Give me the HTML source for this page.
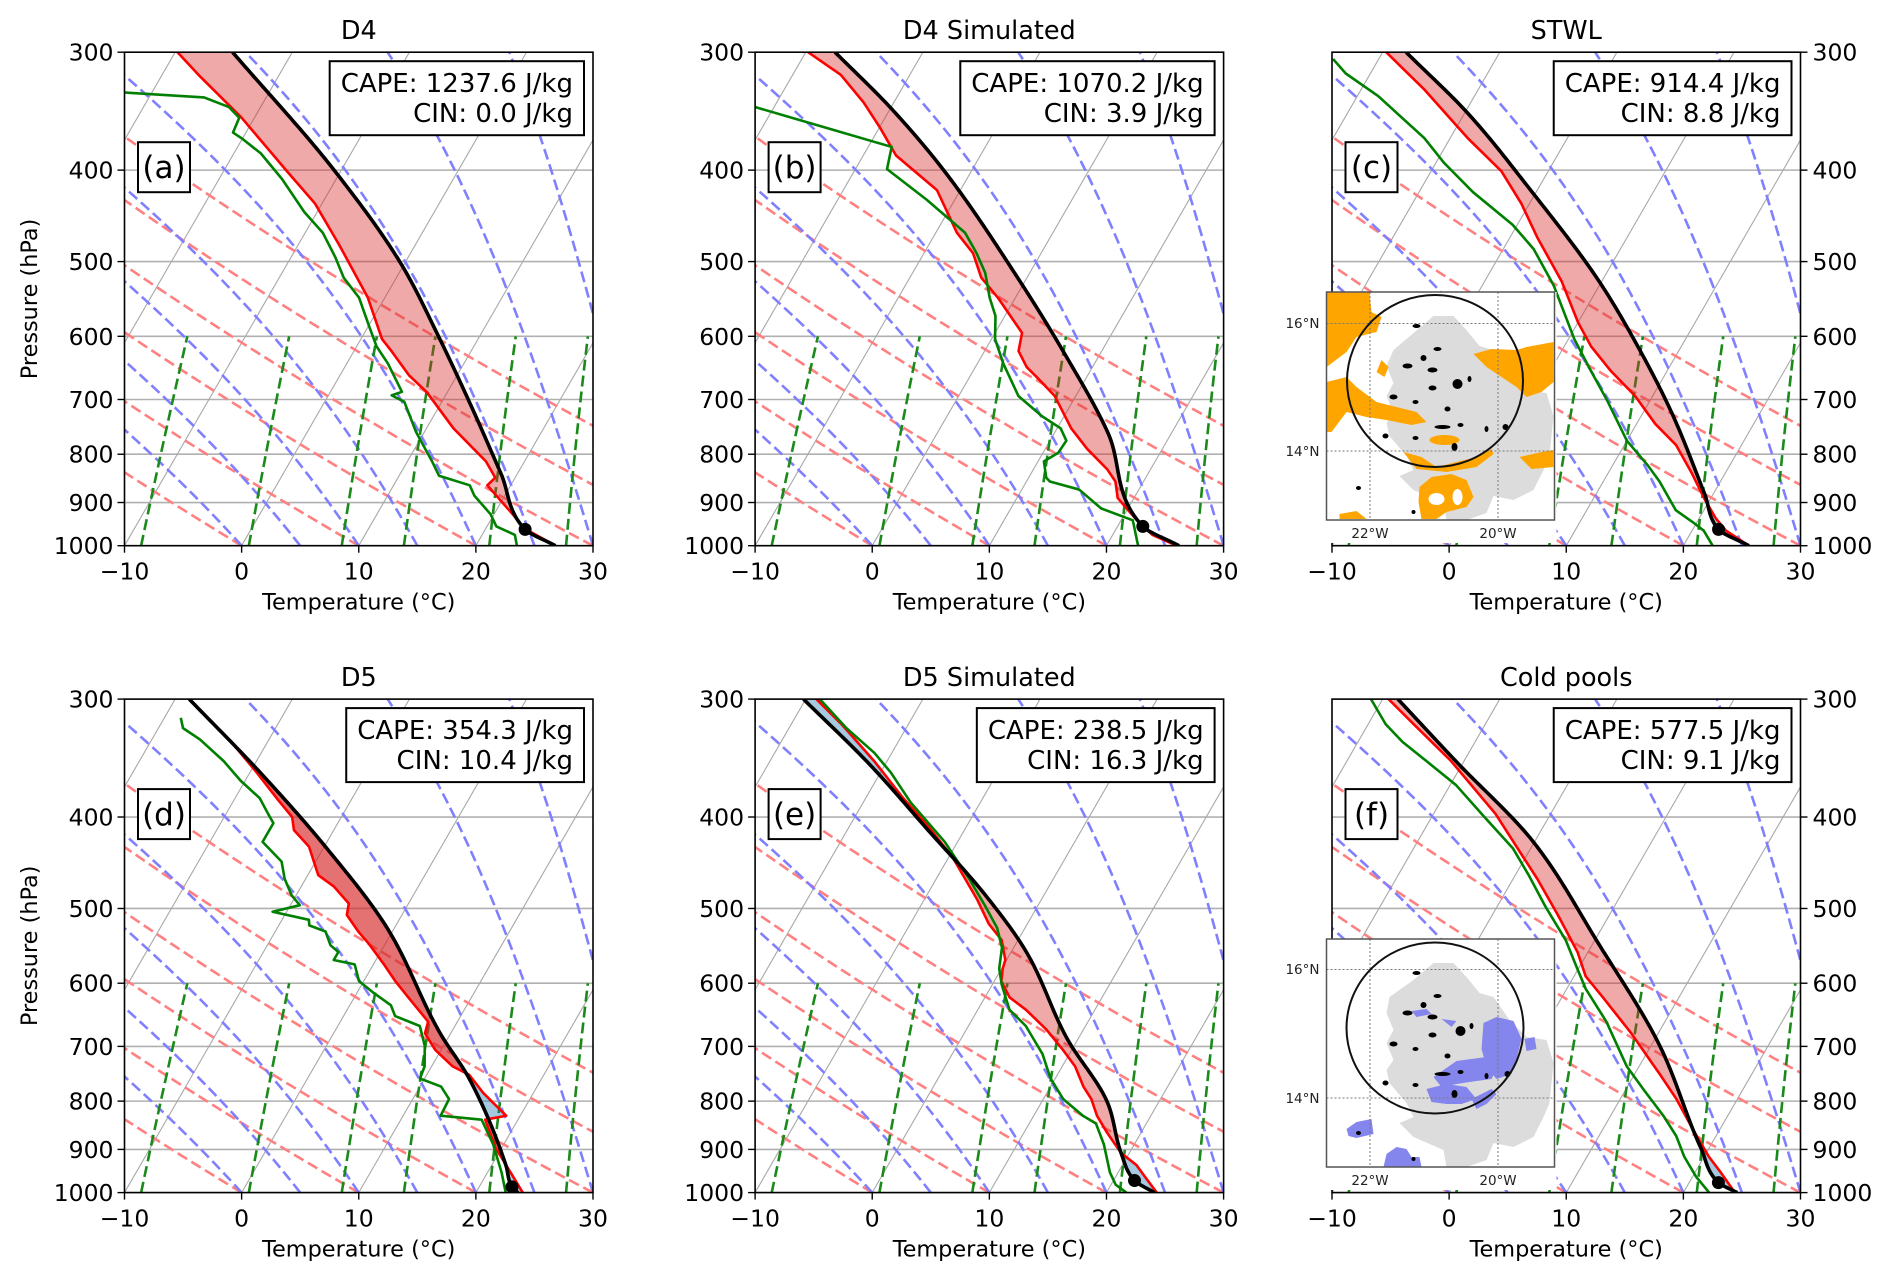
<!DOCTYPE html>
<html><head><meta charset="utf-8"><title>Skew-T soundings</title>
<style>
html,body{margin:0;padding:0;background:#fff;}
svg{display:block;font-family:"DejaVu Sans","Liberation Sans",sans-serif;}
</style></head>
<body>
<svg id="fig" xmlns="http://www.w3.org/2000/svg" width="1892" height="1282" viewBox="0 0 1892 1282">
<rect x="0" y="0" width="1892" height="1282" fill="#fff"/>
<g id="panels"></g>
<g id="inset-c" transform="translate(1326.5,292)">
  <rect x="-2" y="0" width="232" height="251" fill="#fff"/>
  <path d="M67,58 L87,41 L107,24 L127,24 L140,38 L153,54 L167,58 L183,81 L200,98 L220,101 L227,124 L223,164 L217,178 L207,198 L187,208 L167,204 L160,221 L140,228 L120,228 L117,211 L87,198 L73,184 L87,178 L80,164 L63,144 L60,131 L67,121 L60,104 L67,91 L60,74 Z" fill="#dcdcdc"/>
  <path d="M0,0 L43,0 L45,20 L55,25 L50,40 L30,45 L20,60 L0,75 Z" fill="#ffa500"/>
  <path d="M0,90 L20,85 L30,95 L50,110 L70,115 L90,120 L100,130 L85,133 L60,128 L40,125 L20,120 L5,140 L0,140 Z" fill="#ffa500"/>
  <path d="M147,62 L165,57 L190,58 L200,55 L227,50 L227,90 L215,100 L200,105 L190,95 L175,85 L160,75 Z" fill="#ffa500"/>
  <path d="M77,160 L95,165 L110,175 L130,170 L150,165 L165,157 L167,162 L150,175 L120,180 L90,177 Z" fill="#ffa500"/>
  <ellipse cx="118" cy="148" rx="15" ry="5" fill="#ffa500"/>
  <path d="M93,195 L105,185 L125,182 L140,188 L147,205 L140,215 L120,220 L110,227 L95,227 L92,210 Z" fill="#ffa500"/>
  <ellipse cx="110" cy="207" rx="8" ry="6" fill="#fff"/><ellipse cx="131" cy="205" rx="5" ry="8" fill="#fff"/>
  <path d="M193,165 L215,160 L227,158 L227,175 L205,177 Z" fill="#ffa500"/>
  <path d="M13,222 L30,219 L40,227 L13,227 Z" fill="#ffa500"/>
  <path d="M55,68 L62,75 L58,85 L50,80 Z" fill="#ffa500"/>
  <g fill="#000">
    <ellipse cx="90" cy="34" rx="4" ry="2"/><ellipse cx="111" cy="57" rx="4" ry="2"/><ellipse cx="97" cy="66" rx="3" ry="3"/>
    <ellipse cx="81" cy="74" rx="5" ry="2.5"/><ellipse cx="106" cy="78" rx="5" ry="2.5"/><ellipse cx="131" cy="92" rx="5" ry="5"/>
    <ellipse cx="143" cy="87" rx="2" ry="3"/><ellipse cx="106" cy="96" rx="4" ry="2.5"/><ellipse cx="67" cy="105" rx="4" ry="2.5"/>
    <ellipse cx="89" cy="110" rx="3" ry="2"/><ellipse cx="121" cy="117" rx="3" ry="2.5"/><ellipse cx="116" cy="135" rx="8" ry="2"/>
    <ellipse cx="134" cy="133" rx="3" ry="2"/><ellipse cx="59" cy="144" rx="3" ry="2.5"/><ellipse cx="89" cy="146" rx="3" ry="2"/>
    <ellipse cx="128" cy="155" rx="3" ry="4"/><ellipse cx="160" cy="137" rx="2" ry="3"/><ellipse cx="179" cy="135" rx="3" ry="3"/>
    <ellipse cx="32" cy="196" rx="2.5" ry="2"/><ellipse cx="87" cy="220" rx="2" ry="2"/>
  </g>
  <g stroke="#777" stroke-width="1" stroke-dasharray="2 2" fill="none">
    <line x1="43.5" y1="0" x2="43.5" y2="228"/><line x1="171.5" y1="0" x2="171.5" y2="228"/>
    <line x1="0" y1="31.5" x2="228" y2="31.5"/><line x1="0" y1="159" x2="228" y2="159"/>
  </g>
  <ellipse cx="108.5" cy="89" rx="88" ry="86" fill="none" stroke="#111" stroke-width="2"/>
  <rect x="0" y="0" width="228" height="228" fill="none" stroke="#555" stroke-width="1.5"/>
  <g font-size="13.5" fill="#222">
    <text x="-7" y="36" text-anchor="end">16°N</text>
    <text x="-7" y="164" text-anchor="end">14°N</text>
    <text x="43.5" y="246" text-anchor="middle">22°W</text>
    <text x="171.5" y="246" text-anchor="middle">20°W</text>
  </g>
</g>
<g id="inset-f" transform="translate(1326.5,939)">
  <rect x="-2" y="0" width="232" height="251" fill="#fff"/>
  <path d="M63,58 L87,41 L107,24 L127,24 L140,38 L153,54 L167,58 L183,81 L200,98 L220,101 L227,124 L223,164 L217,178 L207,198 L187,208 L167,204 L160,221 L140,228 L120,228 L117,211 L87,198 L73,184 L87,178 L80,164 L63,144 L60,131 L67,121 L60,104 L67,91 L60,74 Z" fill="#dcdcdc"/>
  <g fill="#8585ee">
    <path d="M157,84 L170,78 L187,82 L195,100 L190,120 L185,135 L170,140 L160,128 L155,110 Z"/>
    <path d="M107,138 L130,122 L160,118 L170,130 L165,140 L150,142 L130,145 L115,148 Z"/>
    <path d="M100,150 L120,145 L140,148 L150,160 L135,165 L120,165 L105,163 Z"/>
    <path d="M145,160 L165,150 L170,155 L160,165 L150,170 Z"/>
    <path d="M198,100 L208,98 L210,110 L200,112 Z"/>
    <path d="M20,190 L30,183 L45,180 L47,195 L30,199 L22,197 Z"/>
    <path d="M57,228 L60,215 L70,208 L80,210 L85,218 L93,218 L95,228 Z"/>
    <path d="M85,72 L100,70 L105,75 L90,78 Z"/><path d="M115,80 L130,82 L125,88 Z"/>
  </g>
  <g fill="#000">
    <ellipse cx="90" cy="34" rx="4" ry="2"/><ellipse cx="111" cy="57" rx="4" ry="2"/><ellipse cx="97" cy="66" rx="3" ry="3"/>
    <ellipse cx="81" cy="74" rx="5" ry="2.5"/><ellipse cx="106" cy="78" rx="5" ry="2.5"/><ellipse cx="134" cy="92" rx="5" ry="5"/>
    <ellipse cx="145" cy="87" rx="2" ry="3"/><ellipse cx="106" cy="96" rx="4" ry="2.5"/><ellipse cx="67" cy="105" rx="4" ry="2.5"/>
    <ellipse cx="89" cy="110" rx="3" ry="2"/><ellipse cx="121" cy="117" rx="3" ry="2.5"/><ellipse cx="116" cy="135" rx="8" ry="2"/>
    <ellipse cx="134" cy="133" rx="3" ry="2"/><ellipse cx="59" cy="144" rx="3" ry="2.5"/><ellipse cx="89" cy="146" rx="3" ry="2"/>
    <ellipse cx="128" cy="155" rx="3" ry="4"/><ellipse cx="160" cy="137" rx="2" ry="3"/><ellipse cx="181" cy="135" rx="3" ry="3"/>
    <ellipse cx="32" cy="194" rx="2.5" ry="2"/><ellipse cx="87" cy="220" rx="2" ry="2"/>
  </g>
  <g stroke="#777" stroke-width="1" stroke-dasharray="2 2" fill="none">
    <line x1="43.5" y1="0" x2="43.5" y2="228"/><line x1="171.5" y1="0" x2="171.5" y2="228"/>
    <line x1="0" y1="30.5" x2="228" y2="30.5"/><line x1="0" y1="159" x2="228" y2="159"/>
  </g>
  <ellipse cx="108.5" cy="89" rx="88.5" ry="85.5" fill="none" stroke="#111" stroke-width="2"/>
  <rect x="0" y="0" width="228" height="228" fill="none" stroke="#555" stroke-width="1.5"/>
  <g font-size="13.5" fill="#222">
    <text x="-7" y="35" text-anchor="end">16°N</text>
    <text x="-7" y="164" text-anchor="end">14°N</text>
    <text x="43.5" y="246" text-anchor="middle">22°W</text>
    <text x="171.5" y="246" text-anchor="middle">20°W</text>
  </g>
</g>
</svg>
<script>
// ---- Panel (a) D4 ----
const aTp = [300,317,352,401,434,480,546,604,622,660,687,751,814,847,863,930,959,1000];
const aTt = [-29.8,-26.9,-21.1,-14.6,-10.6,-6.5,-1.45,1.8,3.2,5.9,8.2,12.3,16.7,18.3,18.0,21.8,23.3,26.8];
const aDp = [331,335,343,352,365,370,384,409,443,466,495,520,546,586,615,641,687,693,704,758,814,843,863,885,926,954,974,1000];
const aDt = [-32.3,-25.3,-22.7,-21.3,-21.1,-20.1,-17.7,-14.6,-11.1,-8.5,-6.2,-4.5,-2.2,0.1,1.7,3.5,6.1,5.4,6.8,9.3,12.1,13.4,16.5,17.4,19.7,20.8,22.8,23.5];
const aPp = [300,401,505,597,707,839,961,1000];
const aPt = [-25.1,-10.5,-0.1,6.3,12.5,18.6,23.4,26.8];
// ---- Panel (b) D4 Simulated ----
const bTp = [300,317,339,361,386,420,466,490,520,546,595,622,647,666,694,751,790,830,855,890,917,950,974,1000];
const bTt = [-29.8,-25.9,-22.6,-19.9,-17.2,-12.0,-8.2,-5.8,-3.9,-1.5,2.3,2.9,4.4,6.0,8.2,11.2,13.6,16.3,17.6,18.6,20.1,21.9,23.4,26.0];
const bDp = [343,378,399,430,466,490,514,546,571,604,641,694,729,751,774,797,814,847,855,872,913,940,1000];
const bDt = [-31.6,-18.0,-17.3,-12.4,-7.5,-5.5,-3.8,-2.2,-0.8,0.3,2.2,5.1,8.1,10.3,11.4,11.3,10.5,11.5,12.0,14.9,17.7,21.0,22.7];
const bPp = [300,345,401,520,622,758,954,1000];
const bPt = [-27.5,-19.8,-12.3,-0.8,6.7,14.5,22.15,26.2];
// ---- Panel (c) STWL ----
const cTp = [300,328,370,401,434,471,525,580,615,653,694,743,782,839,890,935,964,1000];
const cTt = [-29.7,-24.7,-18.5,-14.0,-10.7,-7.7,-3.4,0.0,2.3,5.2,8.5,11.6,14.4,17.2,19.4,21.4,22.9,25.6];
const cDp = [305,316,334,370,393,422,457,485,530,604,653,701,774,822,855,917,945,964,1000];
const cDt = [-33.9,-32.1,-28.2,-22.2,-19.3,-15.4,-10.4,-7.4,-3.9,0.5,3.5,6.3,10.0,13.0,14.8,17.6,19.7,21.0,22.5];
const cPp = [300,349,418,525,609,722,881,961,1000];
const cPt = [-28.0,-19.6,-10.8,-0.2,5.9,12.4,19.25,22.2,25.6];
// ---- Panel (d) D5 ----
const dTp = [300,314,331,359,384,400,413,430,461,474,494,508,529,545,573,597,621,659,678,706,735,750,761,784,804,829,837,897,962,1000];
const dTt = [-28.8,-26.3,-23.4,-19.4,-16.2,-14.2,-13.4,-11.3,-9.1,-7.2,-5.1,-4.7,-2.9,-1.4,0.9,2.7,4.6,7.5,7.8,9.5,11.8,13.6,14.3,15.7,17.1,18.8,17.2,19.5,22.4,24.0];
const dDp = [314,322,331,349,366,382,397,406,425,446,465,484,496,504,514,521,529,547,556,567,573,597,615,633,650,666,699,735,757,772,796,829,837,889,952,1000];
const dDt = [-28.6,-27.9,-25.9,-22.8,-20.4,-17.9,-16.4,-15.5,-15.5,-12.9,-11.8,-10.4,-9.2,-11.2,-7.7,-7.4,-5.7,-4.6,-3.6,-3.6,-1.6,-0.4,1.5,3.5,4.4,7.0,8.4,9.4,9.6,11.8,13.1,13.2,16.9,19.1,21.2,22.55];
const dPp = [300,359,430,524,678,757,935,986,1000];
const dPt = [-28.8,-19.1,-9.9,-0.65,9.1,13.8,21.2,22.8,23.6];
// ---- Panel (e) D5 Simulated ----
const eTp = [300,319,349,382,408,442,489,519,540,567,579,597,621,640,672,706,735,772,796,829,864,908,935,962,1000];
const eTt = [-29.1,-25.7,-21.1,-16.8,-13.4,-9.6,-5.5,-3.3,-1.4,-0.1,0.1,0.6,2.1,4.1,6.85,9.25,11.1,12.8,14.1,15.4,17.1,19.3,21.2,22.5,24.3];
const eDp = [300,322,342,359,386,425,465,498,524,550,579,602,640,666,713,757,796,829,845,889,952,981,1000];
const eDt = [-28.8,-25.1,-21.5,-19.1,-15.95,-11.1,-7.2,-4.4,-2.4,-1.0,-0.2,0.8,2.7,4.9,7.7,9.6,11.7,14.2,15.7,17.4,19.3,20.4,21.7];
const ePp = [300,352,413,484,556,686,804,908,971,1000];
const ePt = [-30.2,-21.3,-13.1,-5.0,1.3,9.0,15.7,19.3,21.8,24.1];
// ---- Panel (f) Cold pools ----
const fTp = [300,319,349,397,432,465,508,556,590,621,678,750,796,855,916,952,1000];
const fTt = [-29.5,-26.1,-21.1,-14.7,-11.1,-7.95,-4.4,-0.9,1.0,3.5,7.7,12.2,14.8,17.6,20.4,22.2,24.4];
const fDp = [300,319,333,349,370,400,432,461,498,540,579,608,659,735,779,829,871,916,962,1000];
const fDt = [-31.0,-28.5,-26.2,-23.2,-19.5,-15.5,-11.5,-8.85,-5.85,-2.5,-0.1,1.6,5.0,8.95,11.6,14.5,16.6,18.3,20.3,22.2];
const fPp = [300,349,425,545,699,897,976,1000];
const fPt = [-28.7,-20.7,-10.1,0.5,10.75,19.3,22.5,24.6];

const panelTitles = ["D4","D4 Simulated","STWL","D5","D5 Simulated","Cold pools"];
const panelLetters = ["(a)","(b)","(c)","(d)","(e)","(f)"];
const capeValues = ["1237.6","1070.2","914.4","354.3","238.5","577.5"];
const cinValues = ["0.0","3.9","8.8","10.4","16.3","9.1"];
const lclPressures = [961,954,961,986,971,976];
const pressureTicks = [300,400,500,600,700,800,900,1000];
const tempTicks = [-10,0,10,20,30];

const NS = "http://www.w3.org/2000/svg";
const cols = [124.5,755.1,1332], rows = [52.2,699.1], W = 468.5, H = 493.5;
const SK = Math.tan(Math.PI/6);
const LN = Math.log(1000/300);

function mk(tag, attrs, parent){
  const e = document.createElementNS(NS, tag);
  for (const k in attrs) e.setAttribute(k, attrs[k]);
  if (parent) parent.appendChild(e);
  return e;
}
function Y(pn,p){ return pn.top + H - H*Math.log(1000/p)/LN; }
function X(pn,T,p){ return pn.L + (T+10)*W/40 + SK*(pn.top + H - Y(pn,p)); }
function pathFrom(pn, ps, ts){
  let d = "";
  for (let i=0;i<ps.length;i++){ d += (i?"L":"M") + X(pn,ts[i],ps[i]).toFixed(2) + "," + Y(pn,ps[i]).toFixed(2); }
  return d;
}
function interp(ps, ts, p){
  if (p <= ps[0]) return ts[0];
  if (p >= ps[ps.length-1]) return ts[ts.length-1];
  for (let i=1;i<ps.length;i++){
    if (p <= ps[i]){
      const f = (Math.log(p)-Math.log(ps[i-1]))/(Math.log(ps[i])-Math.log(ps[i-1]));
      return ts[i-1] + f*(ts[i]-ts[i-1]);
    }
  }
}
// monotone cubic (Fritsch-Carlson) in log-p for the parcel curve
function interpSmooth(ps, ts, p){
  if (p <= ps[0]) return ts[0];
  if (p >= ps[ps.length-1]) return ts[ts.length-1];
  const n = ps.length, lx = ps.map(v=>Math.log(v)), x = Math.log(p);
  let i = 1; while (i<n-1 && x > lx[i]) i++;
  const i0=i-1, i1=i;
  const h = lx[i1]-lx[i0], t = (x-lx[i0])/h;
  const slope=(a,b)=>(ts[b]-ts[a])/(lx[b]-lx[a]);
  const tan=(j)=>{
    if (j===0) return slope(0,1);
    if (j===n-1) return slope(n-2,n-1);
    const s0=slope(j-1,j), s1=slope(j,j+1);
    if (s0*s1<=0) return 0;
    const h0=lx[j]-lx[j-1], h1=lx[j+1]-lx[j];
    const w1=2*h1+h0, w2=h1+2*h0;
    return (w1+w2)/(w1/s0+w2/s1);
  };
  const m0=tan(i0), m1=tan(i1);
  const t2=t*t, t3=t2*t;
  return (2*t3-3*t2+1)*ts[i0] + (t3-2*t2+t)*h*m0 + (-2*t3+3*t2)*ts[i1] + (t3-t2)*h*m1;
}
function esat(Tc){ return 6.112*Math.exp(17.67*Tc/(Tc+243.5)); }
function moistRate(p, T){
  const Rd=287.04, Cp=1005.7, Lv=2.501e6, eps=0.622;
  const es = esat(T-273.15); const rs = eps*es/(p-es);
  return (Rd*T + Lv*rs)/(p*(Cp + Lv*Lv*rs*eps/(Rd*T*T)));
}
function moistLine(T0){
  const ps=[], ts=[]; let T=T0+273.15; const n=70;
  for (let i=0;i<=n;i++){
    const p = 1000*Math.pow(0.3, i/n);
    ps.push(p); ts.push(T-273.15);
    if (i<n){
      const p2 = 1000*Math.pow(0.3,(i+1)/n), h = p2-p;
      const k1=moistRate(p,T), k2=moistRate(p+h/2,T+h*k1/2), k3=moistRate(p+h/2,T+h*k2/2), k4=moistRate(p2,T+h*k3);
      T += h*(k1+2*k2+2*k3+k4)/6;
    }
  }
  return [ps,ts];
}
function dryLine(T0){
  const ps=[], ts=[];
  for (let i=0;i<=40;i++){ const p=1000*Math.pow(0.3,i/40); ps.push(p); ts.push((T0+273.15)*Math.pow(p/1000,0.2857)-273.15); }
  return [ps,ts];
}
function mixLine(w){
  const ps=[], ts=[];
  for (let i=0;i<=10;i++){ const p=1000-40*i; const e=p*w/(0.622+w); const l=Math.log(e/6.112); ps.push(p); ts.push(243.5*l/(17.67-l)); }
  return [ps,ts];
}
const dryT0 = [-10,0,10,20,30,40,50];
const moistT0 = [-10]; for (let t=0;t<=80;t+=5) moistT0.push(t);
const mixW = [0.0004,0.001,0.002,0.004,0.007,0.01,0.016,0.024,0.032];

const data = [
  [aTp,aTt,aDp,aDt,aPp,aPt],[bTp,bTt,bDp,bDt,bPp,bPt],[cTp,cTt,cDp,cDt,cPp,cPt],
  [dTp,dTt,dDp,dDt,dPp,dPt],[eTp,eTt,eDp,eDt,ePp,ePt],[fTp,fTt,fDp,fDt,fPp,fPt]
];
const root = document.getElementById("panels");
const defs = mk("defs",{},root);

for (let k=0;k<6;k++){
  const pn = {L: cols[k%3], top: rows[Math.floor(k/3)]};
  const R = pn.L + W, B = pn.top + H;
  const [Tp,Tt,Dp,Dt,Pp,Pt] = data[k];
  const g = mk("g",{},root);
  
  
  const cp = mk("clipPath",{id:"clip"+k},defs);
  mk("rect",{x:pn.L,y:pn.top,width:W,height:H},cp);
  const plot = mk("g",{"clip-path":"url(#clip"+k+")"},g);
  
  
  for (const p of pressureTicks){
    const ln = mk("line",{x1:pn.L,x2:R,y1:Y(pn,p),y2:Y(pn,p),stroke:"#b0b0b0","stroke-width":1.6},plot);
    
    
  }
  for (let t=-100;t<=40;t+=10){
    const ln = mk("line",{x1:X(pn,t,1000),y1:Y(pn,1000),x2:X(pn,t,300),y2:Y(pn,300),stroke:"#a8a8a8","stroke-width":1.1},plot);
    
    
  }
  for (const t0 of dryT0){
    const [ps,ts]=dryLine(t0);
    const el = mk("path",{d:pathFrom(pn,ps,ts),fill:"none",stroke:"#ff8080","stroke-width":2.6,"stroke-dasharray":"11 5"},plot);
    
    
  }
  for (const t0 of moistT0){
    const [ps,ts]=moistLine(t0);
    const el = mk("path",{d:pathFrom(pn,ps,ts),fill:"none",stroke:"#8080ff","stroke-width":2.6,"stroke-dasharray":"11 5"},plot);
    
    
  }
  for (const w of mixW){
    const [ps,ts]=mixLine(w);
    const el = mk("path",{d:pathFrom(pn,ps,ts),fill:"none",stroke:"#1a8a1a","stroke-width":2.6,"stroke-dasharray":"11 5"},plot);
    
    
  }
  const grid=[]; const p0 = Math.max(Tp[0],Pp[0]);
  for (let i=0;i<=400;i++) grid.push(p0*Math.pow(1000/p0,i/400));
  let seg=[], sign=0;
  const flush=()=>{
    if (seg.length>1){
      let d="";
      seg.forEach((p,i)=>{ d+=(i?"L":"M")+X(pn,interpSmooth(Pp,Pt,p),p).toFixed(2)+","+Y(pn,p).toFixed(2); });
      for (let i=seg.length-1;i>=0;i--){ const p=seg[i]; d+="L"+X(pn,interp(Tp,Tt,p),p).toFixed(2)+","+Y(pn,p).toFixed(2); }
      d+="Z";
      const col = sign>0 ? (k===3?"rgba(214,39,40,0.65)":"rgba(214,39,40,0.4)") : "rgba(31,119,180,0.4)";
      const f = mk("path",{d:d,fill:col,stroke:"none"},plot);
      
      
    }
    seg=[];
  };
  for (const p of grid){
    const s = Math.sign(interpSmooth(Pp,Pt,p)-interp(Tp,Tt,p)) || sign;
    if (s!==sign){ if(seg.length){ seg.push(p); } flush(); sign=s; }
    seg.push(p);
  }
  flush();
  const tl = mk("path",{d:pathFrom(pn,Tp,Tt),fill:"none",stroke:"#ff0000","stroke-width":2.6,"stroke-linejoin":"round"},plot);
  
  
  const dl = mk("path",{d:pathFrom(pn,Dp,Dt),fill:"none",stroke:"#008000","stroke-width":2.6,"stroke-linejoin":"round"},plot);
  
  
  const sp=[], st=[];
  for (let i=0;i<=200;i++){ const p = Pp[0]*Math.pow(Pp[Pp.length-1]/Pp[0], i/200); sp.push(p); st.push(interpSmooth(Pp,Pt,p)); }
  const pl = mk("path",{d:pathFrom(pn,sp,st),fill:"none",stroke:"#000","stroke-width":3.6,"stroke-linejoin":"round"},plot);
  
  
  const lp = lclPressures[k];
  const dot = mk("circle",{cx:X(pn,interpSmooth(Pp,Pt,lp),lp),cy:Y(pn,lp),r:6.5,fill:"#000"},plot);
  
  
  const fr = mk("rect",{x:pn.L,y:pn.top,width:W,height:H,fill:"none",stroke:"#000","stroke-width":1.6},g);
  
  
  const right = (k%3===2);
  for (const p of pressureTicks){
    const y = Y(pn,p);
    const tk = mk("line",{x1:right?R:pn.L-7,x2:right?R+7:pn.L,y1:y,y2:y,stroke:"#000","stroke-width":1.4},g);
    
    
    const lb = mk("text",{x:right?R+12:pn.L-11,y:y+8.5,"text-anchor":right?"start":"end","font-size":23.5,fill:"#000"},g);
    lb.textContent = String(p);
    
    
  }
  for (const t of tempTicks){
    const x = pn.L + (t+10)*W/40;
    const tk = mk("line",{x1:x,x2:x,y1:B,y2:B+7,stroke:"#000","stroke-width":1.4},g);
    
    
    const lb = mk("text",{x:x,y:B+34,"text-anchor":"middle","font-size":23.5,fill:"#000"},g);
    lb.textContent = t<0 ? "\u2212"+Math.abs(t) : String(t);
    
    
  }
  const xl = mk("text",{x:pn.L+W/2,y:B+64,"text-anchor":"middle","font-size":22.4,fill:"#000"},g);
  xl.textContent = "Temperature (°C)";
  
  
  if (k%3===0){
    const yl = mk("text",{x:0,y:0,"text-anchor":"middle","font-size":22.4,fill:"#000",transform:"translate(37,"+(pn.top+H/2)+") rotate(-90)"},g);
    yl.textContent = "Pressure (hPa)";
    
    
  }
  const ti = mk("text",{x:pn.L+W/2,y:pn.top-13,"text-anchor":"middle","font-size":25.5,fill:"#000"},g);
  ti.textContent = panelTitles[k];
  
  
  const bx = mk("rect",{x:R-200,y:pn.top+9,width:190,height:74,fill:"#fff",stroke:"#000","stroke-width":2},g);
  
  
  const t1 = mk("text",{x:R-20,y:pn.top+40,"text-anchor":"end","font-size":26,fill:"#000"},g);
  t1.textContent = "CAPE: " + capeValues[k] + " J/kg";
  
  
  const t2 = mk("text",{x:R-20,y:pn.top+70,"text-anchor":"end","font-size":26,fill:"#000"},g);
  t2.textContent = "CIN: " + cinValues[k] + " J/kg";
  
  
  const wmax = Math.max(t1.getComputedTextLength(), t2.getComputedTextLength());
  if (wmax>0){ bx.setAttribute("x", R-20-wmax-11); bx.setAttribute("width", wmax+22); }
  const lbx = mk("rect",{x:pn.L+13.5,y:pn.top+90,width:52,height:50,fill:"#fff",stroke:"#000","stroke-width":2},g);
  
  
  const lt = mk("text",{x:pn.L+39.5,y:pn.top+126,"text-anchor":"middle","font-size":31,fill:"#000"},g);
  lt.textContent = panelLetters[k];
  
  
}
const fig = document.getElementById("fig");
fig.appendChild(document.getElementById("inset-c"));
fig.appendChild(document.getElementById("inset-f"));
</script>
</body></html>
